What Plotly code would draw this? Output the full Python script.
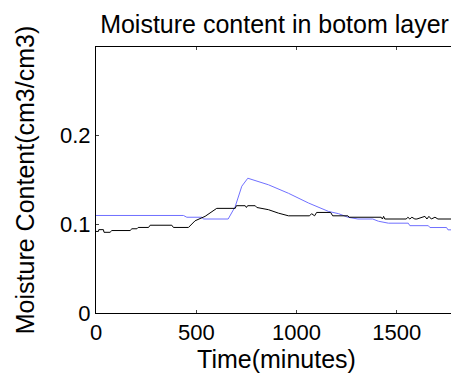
import plotly.graph_objects as go

# tiempo (minutos) y contenido de humedad
t_azul = [0, 436, 453, 528, 535, 659, 694, 727, 757, 860, 960, 1060, 1160, 1210,
          1256, 1306, 1380, 1408, 1458, 1557, 1565, 1657, 1665, 1748, 1755, 1800]
m_azul = [0.110, 0.110, 0.108, 0.108, 0.106, 0.106, 0.120, 0.143, 0.152, 0.1446,
          0.135, 0.124, 0.1145, 0.112, 0.108, 0.106, 0.106, 0.1035, 0.1013, 0.1013,
          0.0985, 0.0985, 0.0964, 0.0964, 0.0938, 0.0938]

t_negro = [0, 12, 14, 37, 40, 70, 79, 170, 179, 204, 210, 262, 270, 378, 386, 461,
           494, 544, 602, 694, 700, 744, 750, 756, 794, 802, 860, 910, 960, 1065,
           1075, 1090, 1100, 1170, 1180, 1256, 1262, 1422, 1428, 1434, 1440, 1547,
           1555, 1565, 1575, 1590, 1600, 1640, 1650, 1660, 1672, 1690, 1705, 1800]
m_negro = [0.092, 0.092, 0.094, 0.094, 0.091, 0.091, 0.093, 0.093, 0.095, 0.095,
           0.0965, 0.0965, 0.099, 0.099, 0.0965, 0.0965, 0.104, 0.109, 0.118, 0.118,
           0.121, 0.121, 0.119, 0.121, 0.121, 0.119, 0.1165, 0.1126, 0.1096, 0.1096,
           0.112, 0.1096, 0.1134, 0.1134, 0.1096, 0.1096, 0.108, 0.108, 0.106, 0.109,
           0.106, 0.106, 0.108, 0.106, 0.108, 0.106, 0.106, 0.109, 0.106, 0.109,
           0.106, 0.108, 0.106, 0.106]

x_ticks = [0, 500, 1000, 1500]
y_ticks = [0, 0.1, 0.2]

fig = go.Figure()
fig.add_trace(go.Scatter(x=t_azul, y=m_azul, mode="lines",
                         line=dict(color="#7070ff", width=1), showlegend=False))
fig.add_trace(go.Scatter(x=t_negro, y=m_negro, mode="lines",
                         line=dict(color="black", width=1), showlegend=False))

# el body tiene 8px de margen: la figura se achica para que no salgan barras
fig.update_layout(
    width=451, height=381,
    margin=dict(l=88, r=2, t=39, b=76),
    paper_bgcolor="white", plot_bgcolor="white",
    font=dict(family="Liberation Sans, Arial", size=22, color="black"),
    title=dict(text="Moisture content in botom layer", x=0.591, xanchor="center",
               y=0.957, yanchor="middle", font=dict(size=25)),
)
fig.update_xaxes(range=[0, 1800], tickvals=x_ticks, ticks="inside", ticklen=3,
                 showline=True, linecolor="black", linewidth=1, mirror="ticks",
                 showgrid=False, zeroline=False,
                 title=dict(text="Time(minutes)", standoff=4, font=dict(size=25)))
fig.update_yaxes(range=[0, 0.3], tickvals=y_ticks, ticktext=["0", "0.1", "0.2"],
                 ticks="inside", ticklen=3,
                 showline=True, linecolor="black", linewidth=1, mirror="ticks",
                 showgrid=False, zeroline=False,
                 title=dict(text="Moisture Content(cm3/cm3)", standoff=18,
                            font=dict(size=25)))

fig.write_html("out.html")
